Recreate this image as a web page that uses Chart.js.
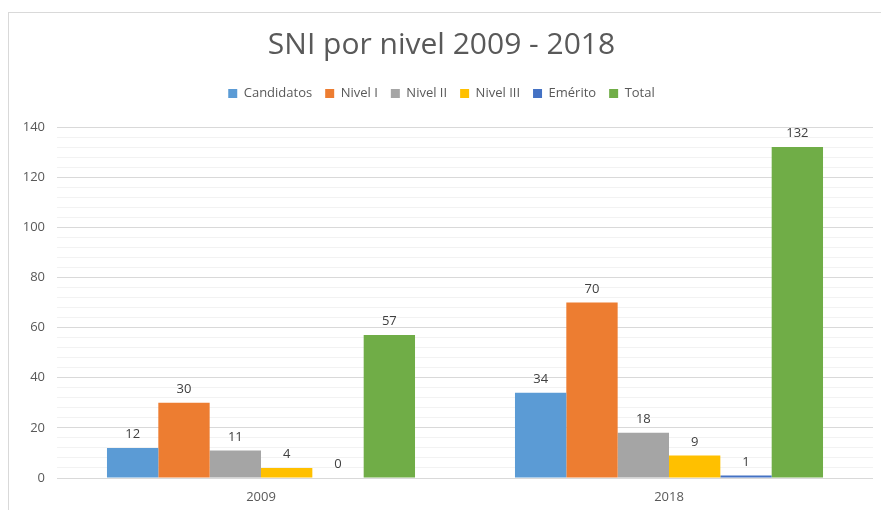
<!DOCTYPE html>
<html>
<head>
<meta charset="utf-8">
<script src="https://cdn.jsdelivr.net/npm/chart.js@4.4.0/dist/chart.umd.min.js"></script>
<style>
  html,body{margin:0;padding:0;background:#fff;}
  #wrap{position:relative;width:881px;height:510px;}
  #frame{position:absolute;left:8px;top:12px;right:0;bottom:0;border-left:1px solid #d9d9d9;border-top:1px solid #d9d9d9;}
  canvas{position:absolute;left:0;top:0;}
</style>
</head>
<body>
<div id="wrap"><div id="frame"></div><canvas id="c" width="881" height="510"></canvas></div>
<script>
const categories = ["2009", "2018"];
const seriesNames = ["Candidatos", "Nivel I", "Nivel II", "Nivel III", "Emérito", "Total"];
const candidatos = [12, 34];
const nivelI = [30, 70];
const nivelII = [11, 18];
const nivelIII = [4, 9];
const emerito = [0, 1];
const total = [57, 132];
const colors = ["#5B9BD5", "#ED7D31", "#A5A5A5", "#FFC000", "#4472C4", "#70AD47"];
const yTicks = [0, 20, 40, 60, 80, 100, 120, 140];

const seriesValues = [candidatos, nivelI, nivelII, nivelIII, emerito, total];
const FONT = "'Open Sans', sans-serif";

const labelPlugin = {
  id: 'valueLabels',
  afterDatasetsDraw(chart) {
    const ctx = chart.ctx;
    ctx.save();
    ctx.font = "13px " + FONT;
    ctx.fillStyle = "#404040";
    ctx.textAlign = "center";
    ctx.textBaseline = "bottom";
    chart.data.datasets.forEach((ds, i) => {
      const meta = chart.getDatasetMeta(i);
      meta.data.forEach((bar, j) => {
        ctx.fillText(String(ds.data[j]), bar.x, bar.y - 7);
      });
    });
    ctx.restore();
  }
};

const legendSpace = {
  id: 'legendSpace',
  beforeInit(chart) {
    const orig = chart.legend.fit;
    chart.legend.fit = function () {
      orig.bind(chart.legend)();
      this.height += 17;
    };
  }
};

new Chart(document.getElementById('c'), {
  type: 'bar',
  data: {
    labels: categories,
    datasets: seriesNames.map((n, i) => ({
      label: n,
      data: seriesValues[i],
      backgroundColor: colors[i],
      borderWidth: 0,
      barPercentage: 1.0,
      categoryPercentage: 0.755
    }))
  },
  options: {
    responsive: false,
    animation: false,
    layout: { padding: { left: 10, right: 8, top: 27, bottom: 0 } },
    plugins: {
      title: {
        display: true,
        text: "SNI por nivel 2009 - 2018",
        color: "#595959",
        font: { family: FONT, size: 30, weight: 'normal' },
        padding: { top: 0, bottom: 11 }
      },
      legend: {
        display: true,
        labels: {
          color: "#595959",
          font: { family: FONT, size: 13 },
          boxWidth: 9,
          boxHeight: 9,
          padding: 13
        }
      },
      tooltip: { enabled: false }
    },
    scales: {
      x: {
        afterFit(scale) { scale.height = 32; },
        grid: { display: false, drawTicks: false },
        border: { display: false },
        ticks: { color: "#595959", font: { family: FONT, size: 13 }, padding: 11 }
      },
      y: {
        min: 0,
        max: 140,
        afterFit(scale) { scale.width = 47; },
        afterBuildTicks(scale) {
          const t = [];
          for (let v = 0; v <= 140; v += 4) t.push({ value: v });
          scale.ticks = t;
        },
        ticks: {
          color: "#595959",
          font: { family: FONT, size: 13 },
          padding: 12,
          autoSkip: false,
          callback: (v) => (yTicks.includes(v) ? String(v) : '')
        },
        grid: {
          drawTicks: false,
          color: (c) => (c.tick && yTicks.includes(c.tick.value) ? "#d9d9d9" : "#f2f2f2"),
          lineWidth: 1
        },
        border: { display: false }
      }
    }
  },
  plugins: [labelPlugin, legendSpace]
});
</script>
</body>
</html>
